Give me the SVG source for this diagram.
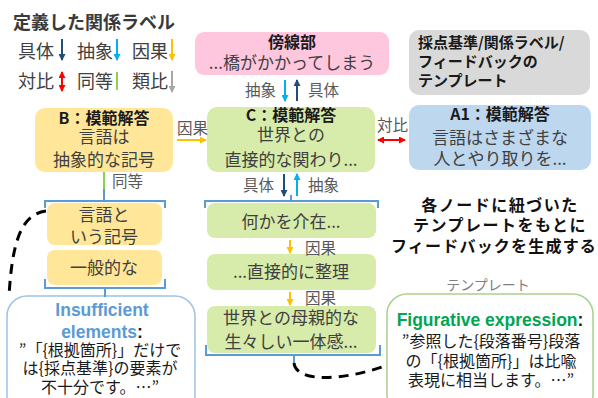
<svg xmlns="http://www.w3.org/2000/svg" width="598" height="398" viewBox="0 0 598 398">
<style>
text{font-family:"Noto Sans CJK JP","Noto Sans",sans-serif;}
.t{font-size:17px;fill:#404040;text-anchor:middle}
.bh{font-size:16px;font-weight:bold;fill:#1a1a1a;text-anchor:middle}
.lg{font-size:18px;fill:#404040}
.lab{font-size:15.5px;fill:#595959}
.ln{fill:none;stroke-width:2}
.br{fill:none;stroke:#5B9BD5;stroke-width:2}
.dash{fill:none;stroke:#000;stroke-width:3;stroke-dasharray:10 7}
.en{font-family:"Liberation Sans",Arial,sans-serif;font-weight:bold;font-size:17.5px;text-anchor:middle}
.q{font-size:16px;fill:#1a1a1a;text-anchor:middle}
.dk{stroke:#1F4E79}.lb{stroke:#00B0F0}.or{stroke:#FFC000}.rd{stroke:#FF0000}.gn{stroke:#92D050}.gy{stroke:#A6A6A6}
</style>
<defs>
<marker id="m-dk" markerUnits="userSpaceOnUse" markerWidth="7" markerHeight="7" refX="6" refY="3.5" orient="auto"><path d="M0,0 L7,3.5 L0,7 z" fill="#1F4E79"/></marker>
<marker id="m-lb" markerUnits="userSpaceOnUse" markerWidth="7" markerHeight="7" refX="6" refY="3.5" orient="auto"><path d="M0,0 L7,3.5 L0,7 z" fill="#00B0F0"/></marker>
<marker id="m-or" markerUnits="userSpaceOnUse" markerWidth="7" markerHeight="7" refX="6" refY="3.5" orient="auto"><path d="M0,0 L7,3.5 L0,7 z" fill="#FFC000"/></marker>
<marker id="m-rd" markerUnits="userSpaceOnUse" markerWidth="7" markerHeight="7" refX="6" refY="3.5" orient="auto-start-reverse"><path d="M0,0 L7,3.5 L0,7 z" fill="#FF0000"/></marker>
<marker id="m-gy" markerUnits="userSpaceOnUse" markerWidth="7" markerHeight="7" refX="6" refY="3.5" orient="auto"><path d="M0,0 L7,3.5 L0,7 z" fill="#A6A6A6"/></marker>
</defs>

<g id="legend">
<text x="13" y="29" style="font-size:18px;font-weight:bold;fill:#3a3a3a">定義した関係ラベル</text>
<text class="lg" x="18" y="58">具体</text>
<line class="ln dk" x1="62" y1="39" x2="62" y2="60" marker-end="url(#m-dk)"/>
<text class="lg" x="77" y="58">抽象</text>
<line class="ln lb" x1="117" y1="39" x2="117" y2="60" marker-end="url(#m-lb)"/>
<text class="lg" x="132" y="58">因果</text>
<line class="ln or" x1="172" y1="39" x2="172" y2="60" marker-end="url(#m-or)"/>
<text class="lg" x="18" y="88">対比</text>
<line class="ln rd" x1="62" y1="72" x2="62" y2="91" marker-start="url(#m-rd)" marker-end="url(#m-rd)"/>
<text class="lg" x="77" y="88">同等</text>
<line class="ln gn" x1="117" y1="72" x2="117" y2="90"/>
<text class="lg" x="132" y="88">類比</text>
<line class="ln gy" x1="172" y1="71" x2="172" y2="92" marker-end="url(#m-gy)"/>
</g>

<g id="node-bousen">
<rect x="195" y="32" width="194" height="43" rx="9" fill="#FFC7DD"/>
<text class="bh" x="292" y="48">傍線部</text>
<text class="t" x="292" y="69">...橋がかかってしまう</text>
</g>

<g id="node-template-legend">
<rect x="409" y="30" width="181" height="65" rx="10" fill="#D9D9D9"/>
<text x="418" y="48" style="font-size:15px;font-weight:bold;fill:#1a1a1a">採点基準/関係ラベル/</text>
<text x="418" y="67" style="font-size:15px;font-weight:bold;fill:#1a1a1a">フィードバックの</text>
<text x="418" y="86" style="font-size:15px;font-weight:bold;fill:#1a1a1a">テンプレート</text>
</g>

<g id="node-A1">
<rect x="409" y="105" width="182" height="65" rx="10" fill="#BDD7EE"/>
<text class="bh" x="500" y="120">A1：模範解答</text>
<text class="t" x="500" y="144">言語はさまざまな</text>
<text class="t" x="500" y="165">人とやり取りを...</text>
</g>

<g id="node-C">
<rect x="207" y="107" width="168" height="65" rx="10" fill="#D7EBAB"/>
<text class="bh" x="291" y="121">C：模範解答</text>
<text class="t" x="291" y="141">世界との</text>
<text class="t" x="291" y="166">直接的な関わり...</text>
</g>

<g id="node-B">
<rect x="35" y="108" width="138" height="64" rx="10" fill="#FFE699"/>
<text class="bh" x="104" y="124">B：模範解答</text>
<text class="t" x="104" y="143">言語は</text>
<text class="t" x="104" y="166">抽象的な記号</text>
</g>

<g id="node-B1">
<rect x="47" y="203" width="115" height="42" rx="8" fill="#FFE699"/>
<text class="t" x="104" y="221">言語と</text>
<text class="t" x="104" y="243">いう記号</text>
</g>
<g id="node-B2">
<rect x="47" y="250" width="115" height="35" rx="8" fill="#FFE699"/>
<text class="t" x="104" y="274">一般的な</text>
</g>

<g id="node-C1">
<rect x="207" y="203" width="169" height="35" rx="8" fill="#D7EBAB"/>
<text class="t" x="291" y="228">何かを介在...</text>
</g>
<g id="node-C2">
<rect x="207" y="254" width="169" height="36" rx="8" fill="#D7EBAB"/>
<text class="t" x="291" y="278">...直接的に整理</text>
</g>
<g id="node-C3">
<rect x="207" y="306" width="169" height="47" rx="8" fill="#D7EBAB"/>
<text class="t" x="291" y="324">世界との母親的な</text>
<text class="t" x="291" y="348">生々しい一体感...</text>
</g>

<g id="node-insufficient">
<rect x="7" y="296" width="188" height="120" rx="20" fill="#fff" stroke="#9DC3E6" stroke-width="1.5"/>
<text class="en" x="102" y="316" fill="#5B9BD5">Insufficient</text>
<text class="en" x="102" y="338"><tspan fill="#5B9BD5">elements</tspan><tspan fill="#1a1a1a">:</tspan></text>
<text class="q" x="100" y="356">”「{根拠箇所}」だけで</text>
<text class="q" x="100" y="374">は{採点基準}の要素が</text>
<text class="q" x="100" y="393">不十分です。…”</text>
</g>

<g id="node-note">
<text x="500" y="211" style="font-size:16px;font-weight:bold;fill:#111;text-anchor:middle;letter-spacing:1.5px">各ノードに紐づいた</text>
<text x="500" y="231" style="font-size:16px;font-weight:bold;fill:#111;text-anchor:middle;letter-spacing:1.5px">テンプレートをもとに</text>
<text x="494" y="252" style="font-size:16px;font-weight:bold;fill:#111;text-anchor:middle;letter-spacing:1.2px">フィードバックを生成する</text>
</g>

<g id="node-figurative">
<text x="488" y="290" style="font-size:14px;fill:#7f7f7f;text-anchor:middle">テンプレート</text>
<rect x="387" y="294" width="206" height="120" rx="20" fill="#fff" stroke="#A9D18E" stroke-width="1.5"/>
<text class="en" x="490" y="326"><tspan fill="#00A651">Figurative expression</tspan><tspan fill="#1a1a1a">:</tspan></text>
<text class="q" x="491" y="347">”参照した{段落番号}段落</text>
<text class="q" x="491" y="367">の「{根拠箇所}」は比喩</text>
<text class="q" x="491" y="386">表現に相当します。…”</text>
</g>

<g id="connectors">
<!-- pink to C -->
<text class="lab" x="245" y="96">抽象</text>
<line class="ln lb" x1="285" y1="80" x2="285" y2="101" marker-end="url(#m-lb)"/>
<line class="ln dk" x1="297" y1="101" x2="297" y2="80" marker-end="url(#m-dk)"/>
<text class="lab" x="308" y="96">具体</text>
<!-- B to C -->
<text class="lab" x="177" y="134">因果</text>
<line class="ln or" x1="177" y1="140" x2="206" y2="140" marker-end="url(#m-or)"/>
<!-- A1 to C -->
<text class="lab" x="377" y="131">対比</text>
<line class="ln rd" x1="378" y1="140" x2="405" y2="140" marker-start="url(#m-rd)" marker-end="url(#m-rd)"/>
<!-- B down -->
<line class="ln gn" x1="104" y1="172" x2="104" y2="189"/>
<line x1="104" y1="189" x2="104" y2="201" class="br"/>
<text class="lab" x="112" y="187">同等</text>
<path class="br" d="M45,208 V201 H165 V208"/>
<path class="br" d="M45,279 V288 H165 V279"/>
<line class="br" x1="105" y1="288" x2="105" y2="297"/>
<!-- C down -->
<text class="lab" x="243" y="191">具体</text>
<line class="ln dk" x1="284" y1="174" x2="284" y2="196" marker-end="url(#m-dk)"/>
<line class="ln lb" x1="297" y1="196" x2="297" y2="174" marker-end="url(#m-lb)"/>
<text class="lab" x="308" y="191">抽象</text>
<line class="br" x1="291" y1="195" x2="291" y2="201"/>
<path class="br" d="M205,208 V201 H378 V208"/>
<line class="ln or" x1="290" y1="240" x2="290" y2="253" marker-end="url(#m-or)"/>
<text class="lab" x="305" y="254">因果</text>
<line class="ln or" x1="290" y1="292" x2="290" y2="305" marker-end="url(#m-or)"/>
<text class="lab" x="305" y="304">因果</text>
<path class="br" d="M206,345 V355 H380 V345"/>
<line class="br" x1="294" y1="355" x2="294" y2="363"/>
<!-- dashed links -->
<path class="dash" d="M46,211 C22,214 12,240 9,297"/>
<path class="dash" d="M294,363 C296,382 340,382 388,365"/>
</g>
</svg>
